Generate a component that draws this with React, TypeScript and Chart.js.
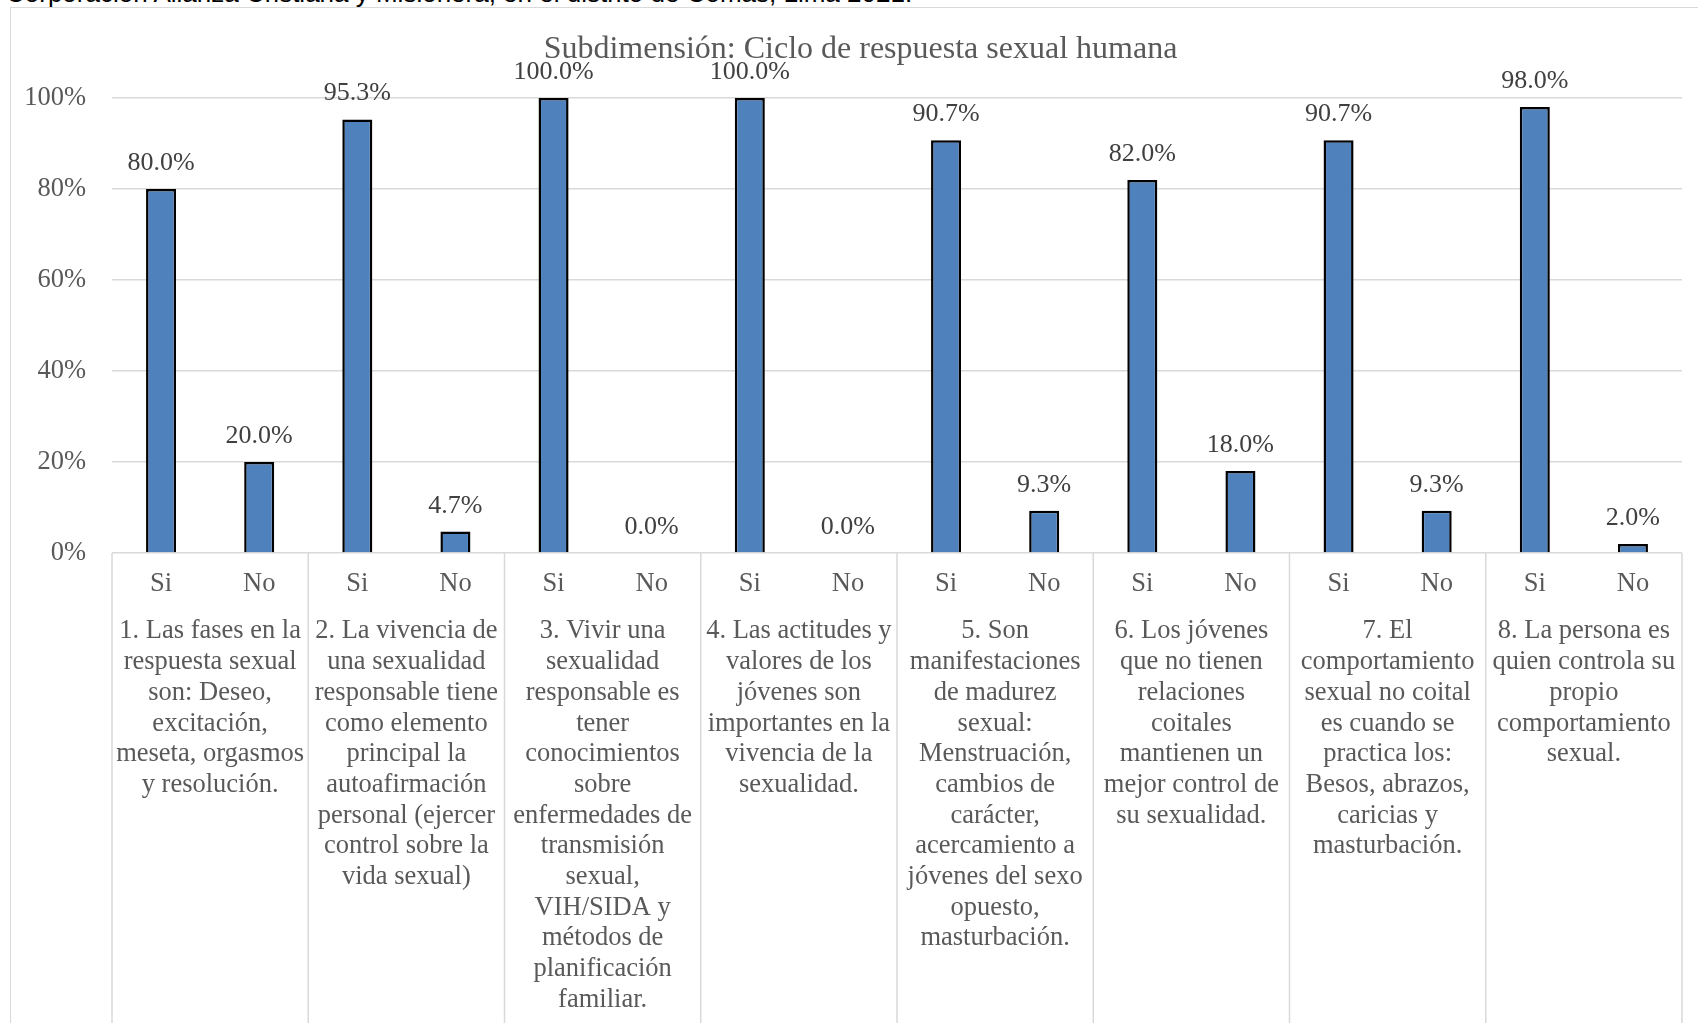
import React, { useEffect, useRef } from "react";
import { Chart, registerables } from "chart.js";

Chart.register(...registerables);

// ---- data ----
const caption =
  "Corporación Alianza Cristiana y Misionera, en el distrito de Comas, Lima 2021.";
const chartTitle = "Subdimensión: Ciclo de respuesta sexual humana";
const answers = ["Si", "No"];
const questions: string[][] = [
  ["1. Las fases en la", "respuesta sexual", "son: Deseo,", "excitación,", "meseta, orgasmos", "y resolución."],
  ["2. La vivencia de", "una sexualidad", "responsable tiene", "como elemento", "principal la", "autoafirmación", "personal (ejercer", "control sobre la", "vida sexual)"],
  ["3. Vivir una", "sexualidad", "responsable es", "tener", "conocimientos", "sobre", "enfermedades de", "transmisión", "sexual,", "VIH/SIDA y", "métodos de", "planificación", "familiar."],
  ["4. Las actitudes y", "valores de los", "jóvenes son", "importantes en la", "vivencia de la", "sexualidad."],
  ["5. Son", "manifestaciones", "de madurez", "sexual:", "Menstruación,", "cambios de", "carácter,", "acercamiento a", "jóvenes del sexo", "opuesto,", "masturbación."],
  ["6. Los jóvenes", "que no tienen", "relaciones", "coitales", "mantienen un", "mejor control de", "su sexualidad."],
  ["7. El", "comportamiento", "sexual no coital", "es cuando se", "practica los:", "Besos, abrazos,", "caricias y", "masturbación."],
  ["8. La persona es", "quien controla su", "propio", "comportamiento", "sexual."],
];
const siPct = [80.0, 95.3, 100.0, 100.0, 90.7, 82.0, 90.7, 98.0];
const noPct = [20.0, 4.7, 0.0, 0.0, 9.3, 18.0, 9.3, 2.0];
const yMin = 0;
const yMax = 100;
const yStep = 20;

const barLabels = questions.flatMap(() => answers);
const barValues = siPct.flatMap((s, i) => [s, noPct[i]]);

const SERIF = "'Liberation Serif', 'Times New Roman', serif";
const GRID = "#d9d9d9";

// title centred over the whole chart frame
const frameTitle = {
  id: "frameTitle",
  afterDraw(chart: any) {
    const ctx = chart.ctx;
    ctx.save();
    ctx.font = `32px ${SERIF}`;
    ctx.fillStyle = "#595959";
    ctx.textAlign = "center";
    ctx.textBaseline = "middle";
    ctx.fillText(chartTitle, chart.width / 2, 41.6);
    ctx.restore();
  },
};

// value labels above each bar
const valueLabels = {
  id: "valueLabels",
  afterDatasetsDraw(chart: any) {
    const ctx = chart.ctx;
    const meta = chart.getDatasetMeta(0);
    ctx.save();
    ctx.font = `26px ${SERIF}`;
    ctx.fillStyle = "#404040";
    ctx.textAlign = "center";
    ctx.textBaseline = "alphabetic";
    meta.data.forEach((bar: any, i: number) => {
      const v = chart.data.datasets[0].data[i] as number;
      ctx.fillText(v.toFixed(1) + "%", bar.x, bar.y - 19);
    });
    ctx.restore();
  },
};

// vertical separators between the question groups of the category axis
const groupSeparators = {
  id: "groupSeparators",
  afterDraw(chart: any) {
    const x2 = chart.scales.x2;
    const ctx = chart.ctx;
    const n = questions.length;
    ctx.save();
    ctx.strokeStyle = GRID;
    ctx.lineWidth = 1.5;
    for (let i = 0; i <= n; i++) {
      const x = x2.getPixelForDecimal(i / n);
      ctx.beginPath();
      ctx.moveTo(x, chart.chartArea.bottom);
      ctx.lineTo(x, chart.height);
      ctx.stroke();
    }
    ctx.restore();
  },
};

function BarChart() {
  const ref = useRef<HTMLCanvasElement | null>(null);

  useEffect(() => {
    if (!ref.current) return;
    const chart = new Chart(ref.current, {
      type: "bar",
      data: {
        labels: barLabels,
        datasets: [
          {
            data: barValues,
            backgroundColor: "#4f81bd",
            borderColor: "#000000",
            borderWidth: 2.5,
            barPercentage: 0.306,
            categoryPercentage: 1,
          },
        ],
      },
      options: {
        animation: false,
        responsive: false,
        layout: { padding: { top: 90, right: 28, bottom: 0, left: 0 } },
        plugins: {
          legend: { display: false },
          tooltip: { enabled: false },
          title: { display: false },
        },
        scales: {
          y: {
            min: yMin,
            max: yMax,
            afterFit: (s: any) => {
              s.width = 101;
            },
            ticks: {
              stepSize: yStep,
              padding: 26,
              color: "#595959",
              font: { family: SERIF, size: 26.5 },
              callback: (v: any) => `${v}%`,
            },
            grid: { color: GRID, lineWidth: 1.5, drawTicks: false },
            border: { display: false },
          },
          x: {
            weight: 0,
            afterFit: (s: any) => {
              s.height = 48;
            },
            ticks: {
              padding: 7.6,
              color: "#595959",
              font: { family: SERIF, size: 26.5 },
              maxRotation: 0,
              autoSkip: false,
            },
            grid: { display: false },
            border: { display: false },
          },
          x2: {
            type: "category",
            position: "bottom",
            weight: 1,
            labels: questions as any,
            offset: true,
            afterFit: (s: any) => {
              s.height = 422;
            },
            ticks: {
              padding: 7.1,
              color: "#595959",
              font: { family: SERIF, size: 26.5, lineHeight: "30.7px" },
              maxRotation: 0,
              minRotation: 0,
              autoSkip: false,
            },
            grid: { display: false },
            border: { display: false },
          },
        },
      } as any,
      plugins: [frameTitle, valueLabels, groupSeparators],
    });
    return () => chart.destroy();
  }, []);

  return (
    <canvas
      ref={ref}
      width={1699}
      height={1015}
      style={{ position: "absolute", left: 11, top: 8, width: 1699, height: 1015 }}
    />
  );
}

export default function App() {
  return (
    <div
      style={{
        position: "fixed",
        left: 0,
        top: 0,
        width: 1698,
        height: 1023,
        overflow: "hidden",
        background: "#ffffff",
      }}
    >
      <div
        style={{
          position: "absolute",
          left: 6,
          top: -20,
          fontFamily: "'Liberation Sans', Arial, sans-serif",
          fontSize: 26,
          lineHeight: "26px",
          color: "#000000",
          whiteSpace: "nowrap",
        }}
      >
        {caption}
      </div>
      <div
        style={{
          position: "absolute",
          left: 10,
          top: 7,
          width: 1740,
          height: 1040,
          border: `1px solid ${GRID}`,
          boxSizing: "border-box",
        }}
      />
      <BarChart />
    </div>
  );
}
